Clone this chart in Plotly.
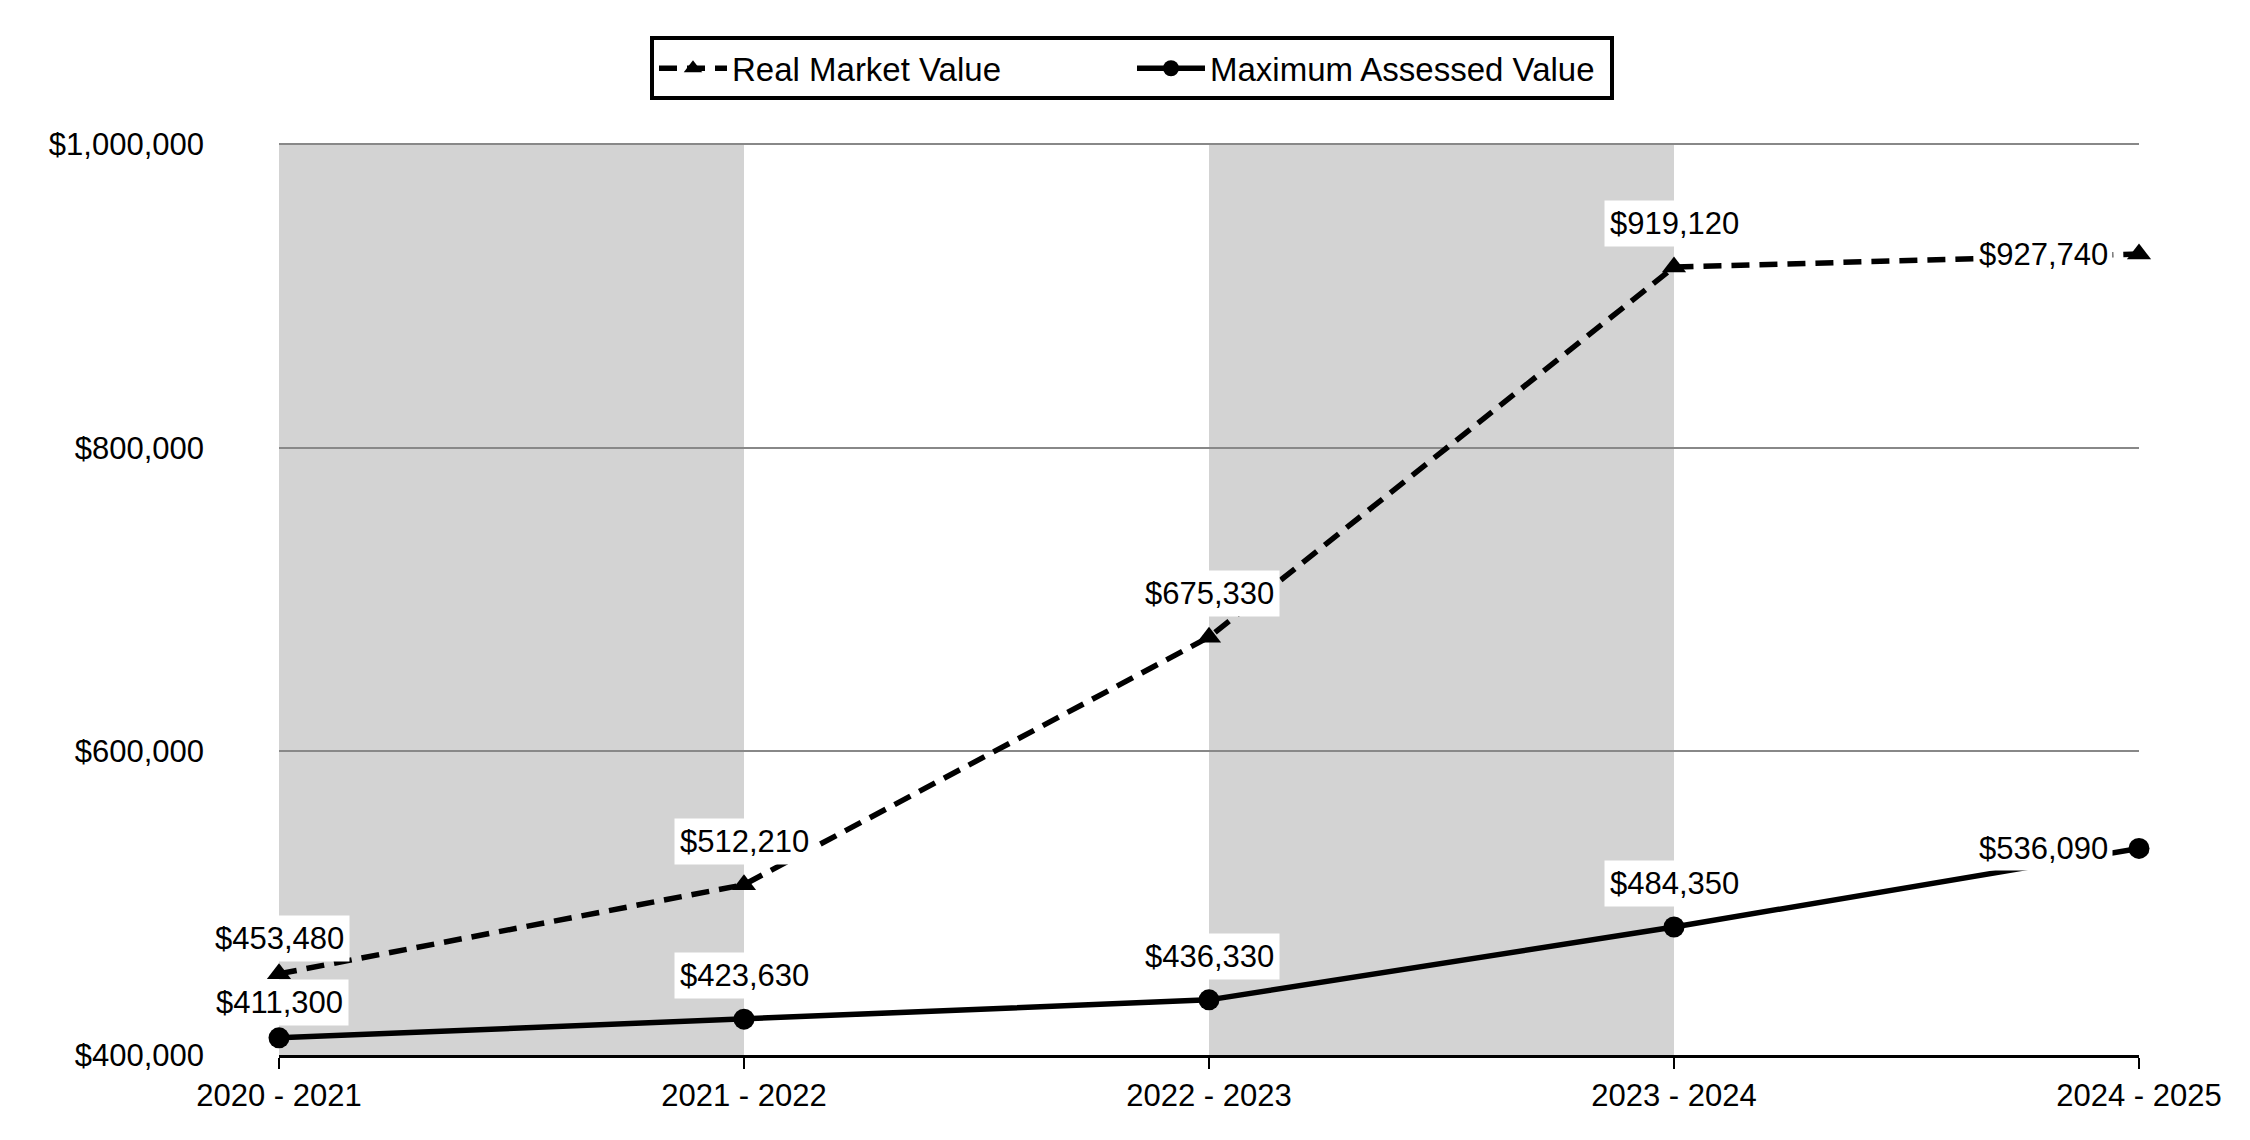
import plotly.graph_objects as go

years = ["2020 - 2021", "2021 - 2022", "2022 - 2023", "2023 - 2024", "2024 - 2025"]
real_market = [453480, 512210, 675330, 919120, 927740]
max_assessed = [411300, 423630, 436330, 484350, 536090]
y_ticks = [400000, 600000, 800000, 1000000]
y_ticktext = ["$400,000", "$600,000", "$800,000", "$1,000,000"]
shaded_spans = [(0, 1), (2, 3)]

FONT = "Liberation Sans, Arial, sans-serif"
FS = 31
fig = go.Figure()

fig.add_trace(go.Scatter(
    x=years, y=real_market, name="Real Market Value", mode="lines+markers",
    line=dict(color="black", width=5.5, dash="18px,10px"),
    marker=dict(symbol="triangle-up", size=21, color="black"),
    cliponaxis=False,
))
fig.add_trace(go.Scatter(
    x=years, y=max_assessed, name="Maximum Assessed Value", mode="lines+markers",
    line=dict(color="black", width=5.5),
    marker=dict(symbol="circle", size=21, color="black"),
    cliponaxis=False,
))

for a, b in shaded_spans:
    fig.add_shape(type="rect", xref="x", yref="paper", x0=a, x1=b, y0=0, y1=1,
                  fillcolor="#d3d3d3", line_width=0, layer="below")

def fmt(v):
    return "${:,}".format(v)

for series in (real_market, max_assessed):
    n = len(series)
    for i, (x, v) in enumerate(zip(years, series)):
        if i == n - 1:
            fig.add_annotation(x=x, y=v, text=fmt(v), showarrow=False,
                               xanchor="right", yanchor="middle", xshift=-26,
                               bgcolor="white", borderpad=4,
                               font=dict(size=FS, color="black", family=FONT))
        else:
            fig.add_annotation(x=x, y=v, text=fmt(v), showarrow=False,
                               xanchor="center", yanchor="bottom",
                               yshift=(12 if i == 0 else 20),
                               bgcolor="white", borderpad=5,
                               font=dict(size=FS, color="black", family=FONT))

fig.update_layout(
    width=2250, height=1140,
    margin=dict(l=271, r=119, t=135, b=93),
    plot_bgcolor="white", paper_bgcolor="white",
    font=dict(family=FONT, size=FS, color="black"),
    showlegend=True,
    legend=dict(orientation="h", x=0.4586, y=1.117, xanchor="center", yanchor="top",
                bordercolor="black", borderwidth=4, bgcolor="white",
                font=dict(size=33, family=FONT), itemwidth=68,
                entrywidth=395, entrywidthmode="pixels",
                traceorder="normal"),
    xaxis=dict(type="category", range=[0, 4], showgrid=False, showline=True,
               linecolor="black", linewidth=3, ticks="outside", ticklen=11,
               tickcolor="black", tickwidth=2, tickfont=dict(size=FS),
               zeroline=False),
    yaxis=dict(range=[400000, 1000900], tickvals=y_ticks, ticktext=y_ticktext,
               showgrid=True, gridcolor="#888888", gridwidth=2, showline=False,
               zeroline=False, ticks="", tickfont=dict(size=FS), ticklabelstandoff=74),
)

fig.write_html("out.html")
